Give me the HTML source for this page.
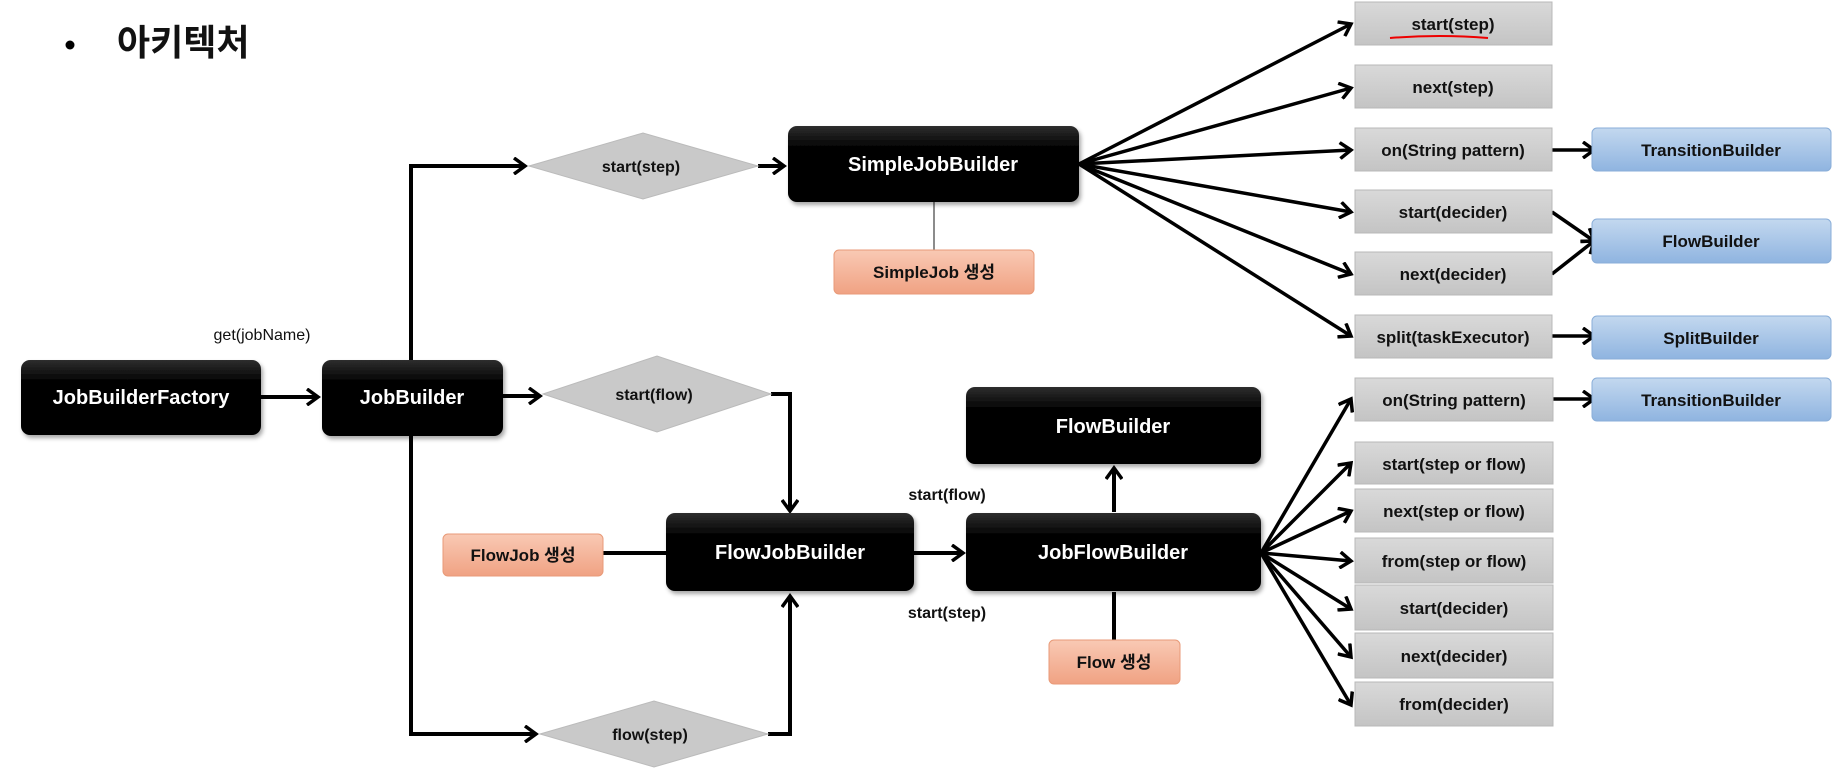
<!DOCTYPE html>
<html><head><meta charset="utf-8"><style>
body{margin:0;background:#fff;}
svg{display:block;font-family:"Liberation Sans","Noto Sans CJK KR",sans-serif;font-weight:bold;}
</style></head><body>
<svg width="1833" height="778" viewBox="0 0 1833 778" xmlns="http://www.w3.org/2000/svg">
<defs>
<linearGradient id="bk" x1="0" y1="0" x2="0" y2="1"><stop offset="0" stop-color="#2e2e2e"/><stop offset="0.3" stop-color="#000"/><stop offset="1" stop-color="#000"/></linearGradient>
<linearGradient id="gr" x1="0" y1="0" x2="0" y2="1"><stop offset="0" stop-color="#d9d9d9"/><stop offset="1" stop-color="#c4c4c4"/></linearGradient>
<linearGradient id="bl" x1="0" y1="0" x2="0" y2="1"><stop offset="0" stop-color="#c3d8ef"/><stop offset="1" stop-color="#8fb4e0"/></linearGradient>
<linearGradient id="or" x1="0" y1="0" x2="0" y2="1"><stop offset="0" stop-color="#f9c9b4"/><stop offset="1" stop-color="#f0a283"/></linearGradient>
<marker id="a" markerWidth="16" markerHeight="18" refX="13" refY="9" orient="auto" markerUnits="userSpaceOnUse"><path d="M2,1 L13,9 L2,17" fill="none" stroke="#000" stroke-width="3.5"/></marker>
<filter id="sh"><feDropShadow dx="2" dy="3" stdDeviation="2" flood-opacity="0.35"/></filter>
</defs>

<circle cx="70" cy="45" r="4.5" fill="#000"/>
<text x="117" y="55" font-size="36" fill="#111">아키텍처</text>

<g stroke="#000" stroke-width="4" fill="none">
<line x1="261" y1="397" x2="318" y2="397" marker-end="url(#a)"/>
<polyline points="411,360 411,166 525,166" marker-end="url(#a)"/>
<line x1="758" y1="166" x2="784" y2="166" marker-end="url(#a)"/>
<line x1="503" y1="396" x2="540" y2="396" marker-end="url(#a)"/>
<polyline points="411,436 411,734 536,734" marker-end="url(#a)"/>
<polyline points="771,394 790,394 790,511" marker-end="url(#a)"/>
<polyline points="768,734 790,734 790,596" marker-end="url(#a)"/>
<line x1="603" y1="553" x2="666" y2="553"/>
<line x1="914" y1="553" x2="963" y2="553" marker-end="url(#a)"/>
<line x1="1114" y1="512" x2="1114" y2="468" marker-end="url(#a)"/>
<line x1="1114" y1="642" x2="1114" y2="592"/>
</g>
<line x1="934" y1="202" x2="934" y2="250" stroke="#666" stroke-width="1.5"/>

<g stroke="#000" stroke-width="3.5" fill="none" marker-end="url(#a)">
<line x1="1079" y1="164" x2="1351" y2="24"/>
<line x1="1079" y1="164" x2="1351" y2="88"/>
<line x1="1079" y1="164" x2="1351" y2="150"/>
<line x1="1079" y1="164" x2="1351" y2="212"/>
<line x1="1079" y1="164" x2="1351" y2="274"/>
<line x1="1079" y1="164" x2="1351" y2="336"/>
<line x1="1552" y1="150" x2="1594" y2="150"/>
<line x1="1552" y1="336" x2="1594" y2="336"/>
<line x1="1553" y1="399" x2="1594" y2="399"/>
<line x1="1552" y1="212" x2="1594" y2="241"/>
<line x1="1552" y1="274" x2="1594" y2="241"/>
<line x1="1261" y1="553" x2="1351" y2="399"/>
<line x1="1261" y1="553" x2="1351" y2="463"/>
<line x1="1261" y1="553" x2="1351" y2="511"/>
<line x1="1261" y1="553" x2="1351" y2="561"/>
<line x1="1261" y1="553" x2="1351" y2="609"/>
<line x1="1261" y1="553" x2="1351" y2="657"/>
<line x1="1261" y1="553" x2="1351" y2="705"/>
</g>

<g filter="url(#sh)">
<rect x="21" y="360" width="240" height="75" rx="9" fill="url(#bk)"/>
<rect x="322" y="360" width="181" height="76" rx="9" fill="url(#bk)"/>
<rect x="788" y="126" width="291" height="76" rx="9" fill="url(#bk)"/>
<rect x="966" y="387" width="295" height="77" rx="9" fill="url(#bk)"/>
<rect x="666" y="513" width="248" height="78" rx="9" fill="url(#bk)"/>
<rect x="966" y="513" width="295" height="78" rx="9" fill="url(#bk)"/>
</g>
<g fill="#fff" font-size="20" text-anchor="middle">
<text x="141" y="404">JobBuilderFactory</text>
<text x="412" y="404">JobBuilder</text>
<text x="933" y="171">SimpleJobBuilder</text>
<text x="1113" y="433">FlowBuilder</text>
<text x="790" y="559">FlowJobBuilder</text>
<text x="1113" y="559">JobFlowBuilder</text>
</g>

<g fill="#c9c9c9" stroke="#bbb" stroke-width="1">
<polygon points="529,166 643,133 758,166 643,199"/>
<polygon points="543,394 657,356 771,394 657,432"/>
<polygon points="540,734 654,701 768,734 654,767"/>
</g>
<g font-size="16" text-anchor="middle" fill="#111">
<text x="641" y="172">start(step)</text>
<text x="654" y="400">start(flow)</text>
<text x="650" y="740">flow(step)</text>
<text x="262" y="340" font-weight="normal" font-size="16">get(jobName)</text>
<text x="947" y="500">start(flow)</text>
<text x="947" y="618">start(step)</text>
</g>

<g fill="url(#or)" stroke="#e89a78" stroke-width="1">
<rect x="834" y="250" width="200" height="44" rx="5"/>
<rect x="443" y="534" width="160" height="42" rx="5"/>
<rect x="1049" y="640" width="131" height="44" rx="5"/>
</g>
<g font-size="17" text-anchor="middle" fill="#111">
<text x="934" y="278">SimpleJob 생성</text>
<text x="523" y="561">FlowJob 생성</text>
<text x="1114" y="668">Flow 생성</text>
</g>

<g fill="url(#gr)" stroke="#b8b8b8" stroke-width="1">
<rect x="1355" y="2" width="197" height="43"/>
<rect x="1355" y="65" width="197" height="43"/>
<rect x="1355" y="128" width="197" height="43"/>
<rect x="1355" y="190" width="197" height="43"/>
<rect x="1355" y="252" width="197" height="43"/>
<rect x="1355" y="315" width="197" height="43"/>
<rect x="1355" y="378" width="198" height="43"/>
<rect x="1355" y="442" width="198" height="42"/>
<rect x="1355" y="489" width="198" height="43"/>
<rect x="1355" y="538" width="198" height="45"/>
<rect x="1355" y="585" width="198" height="45"/>
<rect x="1355" y="633" width="198" height="45"/>
<rect x="1355" y="682" width="198" height="44"/>
</g>
<g font-size="17" text-anchor="middle" fill="#111">
<text x="1453" y="30">start(step)</text>
<text x="1453" y="93">next(step)</text>
<text x="1453" y="156">on(String pattern)</text>
<text x="1453" y="218">start(decider)</text>
<text x="1453" y="280">next(decider)</text>
<text x="1453" y="343">split(taskExecutor)</text>
<text x="1454" y="406">on(String pattern)</text>
<text x="1454" y="470">start(step or flow)</text>
<text x="1454" y="517">next(step or flow)</text>
<text x="1454" y="567">from(step or flow)</text>
<text x="1454" y="614">start(decider)</text>
<text x="1454" y="662">next(decider)</text>
<text x="1454" y="710">from(decider)</text>
</g>
<path d="M1390,38 Q1440,34 1488,38" stroke="#e00" stroke-width="2" fill="none"/>

<g fill="url(#bl)" stroke="#8aaed8" stroke-width="1">
<rect x="1592" y="128" width="239" height="43" rx="5"/>
<rect x="1592" y="219" width="239" height="44" rx="5"/>
<rect x="1592" y="316" width="239" height="43" rx="5"/>
<rect x="1592" y="378" width="239" height="43" rx="5"/>
</g>
<g font-size="17" text-anchor="middle" fill="#111">
<text x="1711" y="156">TransitionBuilder</text>
<text x="1711" y="247">FlowBuilder</text>
<text x="1711" y="344">SplitBuilder</text>
<text x="1711" y="406">TransitionBuilder</text>
</g>
</svg>
</body></html>
